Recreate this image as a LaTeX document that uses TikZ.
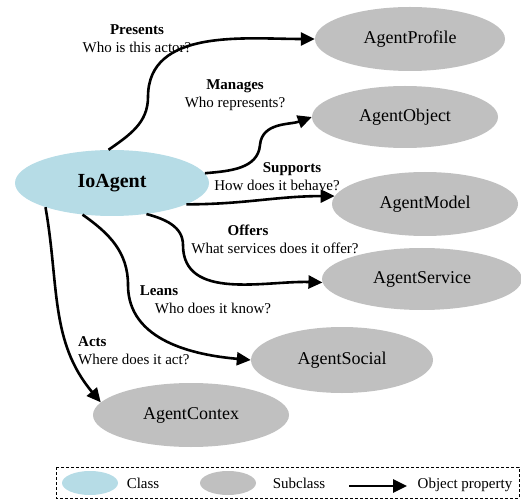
\documentclass[tikz,border=0pt]{standalone}
\usepackage{fontspec}
\setmainfont{Liberation Serif}
\usetikzlibrary{arrows.meta, shapes.geometric}
\definecolor{classblue}{RGB}{182,220,230}
\definecolor{subgray}{RGB}{192,192,192}

\begin{document}
\begin{tikzpicture}[x=1pt, y=1pt,
  cls/.style={ellipse, fill=classblue, inner sep=0pt, minimum width=194pt, minimum height=66pt, font=\fontsize{20}{22}\selectfont\bfseries},
  sub/.style={ellipse, fill=subgray, inner sep=0pt, minimum height=64pt, font=\fontsize{18}{20}\selectfont},
  prop/.style={line width=2.6pt, -{Triangle[length=14pt,width=13pt]}},
  lbl/.style={align=center, inner sep=0pt, font=\fontsize{15}{18}\selectfont},
  key/.style={inner sep=0pt, anchor=base, font=\fontsize{15}{17}\selectfont}]
\useasboundingbox (0,0) rectangle (521,-502);

\node[cls] (IoAgent) at (112,-183) {IoAgent};
\node[sub, minimum width=190pt] (AgentProfile) at (410,-39) {AgentProfile};
\node[sub, minimum width=186pt, minimum height=62pt] (AgentObject) at (405,-117) {AgentObject};
\node[sub, minimum width=186pt] (AgentModel) at (425,-204) {AgentModel};
\node[sub, minimum width=200pt, minimum height=62pt] (AgentService) at (422,-279) {AgentService};
\node[sub, minimum width=182pt, minimum height=66pt] (AgentSocial) at (342,-360) {AgentSocial};
\node[sub, minimum width=196pt] (AgentContex) at (191,-415) {AgentContex};

\node[lbl] (presents) at (137,-38.5) {\textbf{Presents}\\Who is this actor?};
\node[lbl] (manages) at (235,-95.5) {\textbf{Manages}\\Who represents?};
\node[lbl] (supports) at (277,-176.5) {\hspace*{30pt}\textbf{Supports}\\How does it behave?};
\node[lbl] (offers) at (275,-239.5) {\textbf{Offers}\hspace*{54pt}\\What services does it offer?};
\node[lbl] (leans) at (213,-299.5) {\textbf{Leans}\hspace*{108pt}\\Who does it know?};
\node[lbl, align=left, anchor=west] (acts) at (78,-350.5) {\textbf{Acts}\\Where does it act?};

\draw[prop] (IoAgent.96) to[out=35,in=-90] (148,-97) to[out=90,in=180] (AgentProfile.west);
\draw[prop] (IoAgent.6) to[out=5,in=-95] (260,-145) to[out=85,in=200] (AgentObject.west);
\draw[prop] (IoAgent.-16) to[out=0,in=180] (AgentModel.175);
\draw[prop] (IoAgent.-42) to[out=-15,in=90] (183,-245) to[out=-90,in=178] (AgentService.182);
\draw[prop] (IoAgent.227) to[out=-35,in=90] (128,-285) to[out=-90,in=175] (AgentSocial.west);
\draw[prop] (IoAgent.200) to[out=-80,in=130] (AgentContex.172);

\node[cls, minimum width=56pt, minimum height=24pt] (keyClass) at (90,-483) {};
\node[key] (keyClassText) at (143,-488) {Class};
\node[sub, minimum width=56pt, minimum height=24pt] (keySub) at (228,-483) {};
\node[key] (keySubText) at (299,-488) {Subclass};
\coordinate (keyFrom) at (349,-486);
\coordinate (keyTo) at (407,-486);
\draw[prop] (keyFrom) -- (keyTo);
\node[key] (keyPropText) at (465,-488) {Object property};
\draw[dash pattern=on 3pt off 2pt] (56,-467) rectangle (519,-498);

\end{tikzpicture}
\end{document}
